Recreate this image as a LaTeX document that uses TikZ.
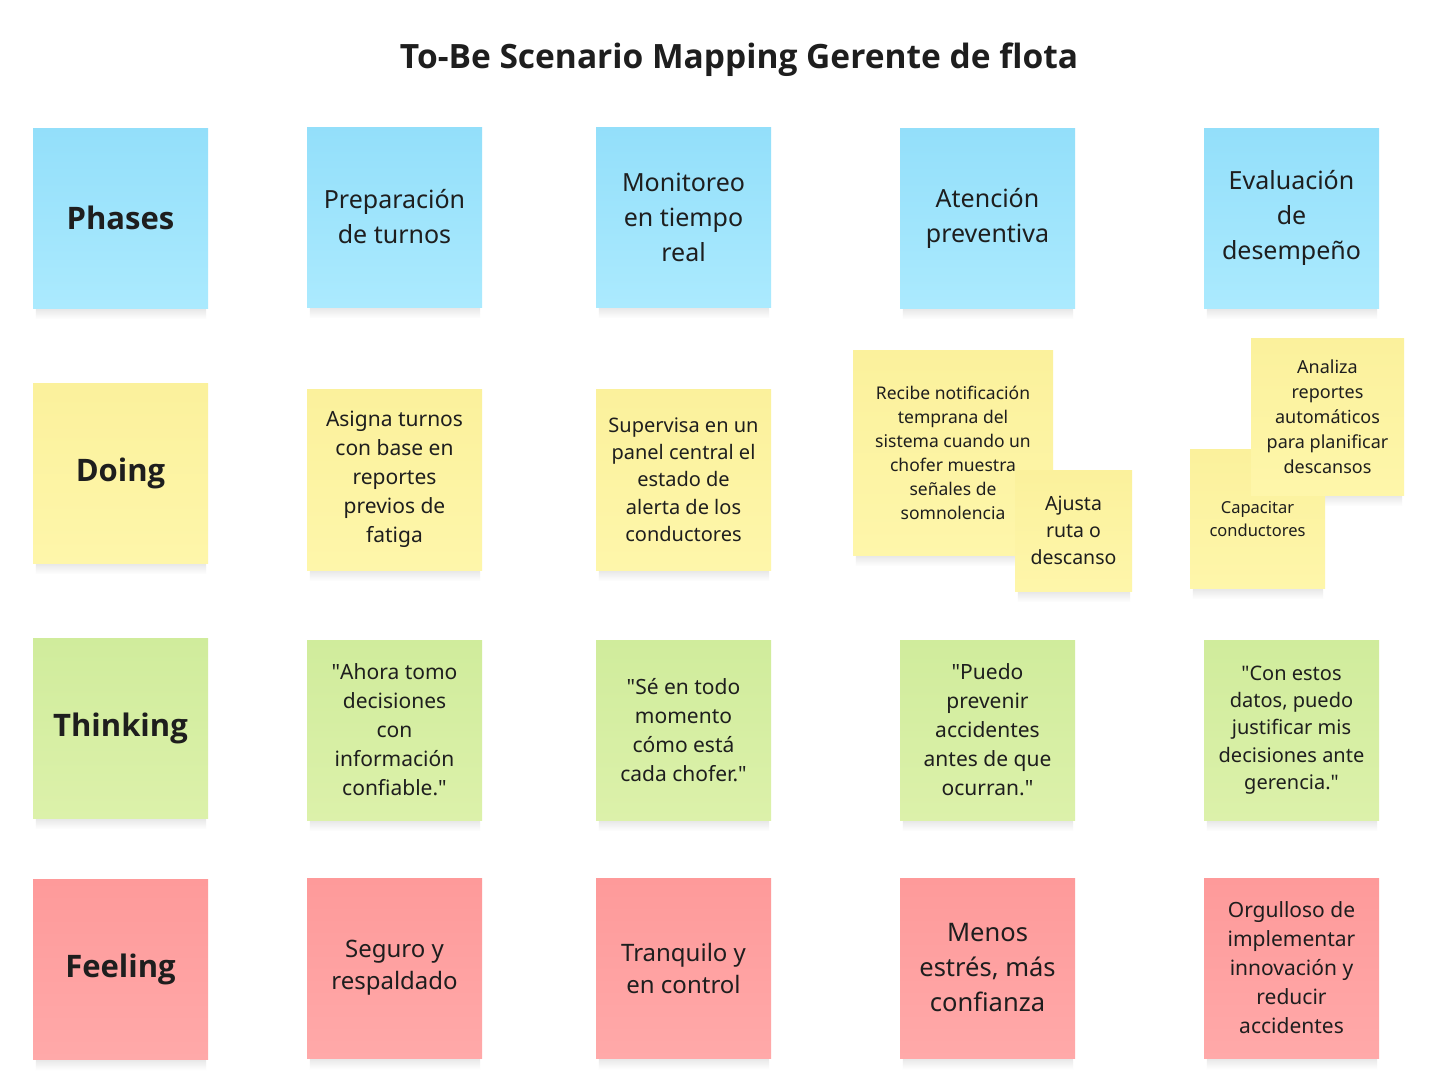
\documentclass[tikz,border=0pt]{standalone}
\usepackage{fontspec}
\setmainfont{Noto Sans}
\newfontfamily\heavyfont{Open Sans}
\usetikzlibrary{backgrounds}
\definecolor{ink}{HTML}{1E1E1E}
\definecolor{bluetop}{HTML}{93DFFA}
\definecolor{bluebot}{HTML}{ABEAFE}
\definecolor{yeltop}{HTML}{FBF19C}
\definecolor{yelbot}{HTML}{FEF6AA}
\definecolor{greentop}{HTML}{D0EC9C}
\definecolor{greenbot}{HTML}{DCF1AA}
\definecolor{redtop}{HTML}{FE9A9A}
\definecolor{redbot}{HTML}{FFA9A9}
\definecolor{shadowtone}{HTML}{E4E4E4}
\newcommand\notefont[2]{\fontsize{#1}{#2}\selectfont}
\newcommand\dq{\textquotedbl}
% soft shadow strip under a sticky note
\newcommand\noteshadow[1]{%
  \shade[top color=shadowtone, bottom color=white]
    ([xshift=3pt,yshift=1pt]#1.south west) rectangle ([xshift=-2pt,yshift=-11pt]#1.south east);}
\begin{document}
\begin{tikzpicture}[x=1pt,y=-1pt,
  note/.style={rectangle, inner sep=0pt, align=center, text=ink},
  dims/.style 2 args={minimum width=#1pt, minimum height=#2pt},
  bluenote/.style={note, top color=bluetop, bottom color=bluebot},
  yellownote/.style={note, top color=yeltop, bottom color=yelbot},
  greennote/.style={note, top color=greentop, bottom color=greenbot},
  rednote/.style={note, top color=redtop, bottom color=redbot},
  header/.style={font=\heavyfont\notefont{31}{36}\bfseries},
  big/.style={font=\notefont{25}{35}},
  mid/.style={font=\notefont{21}{29}},
  midsmall/.style={font=\notefont{20}{27.3}}
]
\begin{pgfonlayer}{background}
  \fill[white] (0,0) rectangle (1439,1085);
\end{pgfonlayer}
\useasboundingbox (0,0) rectangle (1439,1085);

% title
\node[anchor=base, text=ink, font=\heavyfont\notefont{33.5}{40}\bfseries] (title) at (739,68)
  {To-Be Scenario Mapping Gerente de flota};

% Phases row
\node[bluenote, dims={175}{180}, header] (ph0) at (120.5,218) {Phases};
\node[bluenote, dims={175}{180}, big] (ph1) at (394.5,217) {Preparación\\de turnos};
\node[bluenote, dims={175}{180}, big] (ph2) at (683.5,217) {Monitoreo\\en tiempo\\real};
\node[bluenote, dims={175}{180}, big] (ph3) at (987.5,218) {Atención\\preventiva};
\node[bluenote, dims={175}{180}, big] (ph4) at (1291.5,218) {Evaluación\\de\\desempeño};

% Doing row
\node[yellownote, dims={175}{180}, header] (do0) at (120.5,473) {Doing};
\node[yellownote, dims={175}{181}, mid] (do1) at (394.5,479.5)
  {Asigna turnos\\con base en\\reportes\\previos de\\fatiga};
\node[yellownote, dims={175}{181}, midsmall] (do2) at (683.5,479.5)
  {Supervisa en un\\panel central el\\estado de\\alerta de los\\conductores};
\node[yellownote, dims={200}{205}, font=\notefont{17.5}{24}] (do3) at (953,452.5)
  {Recibe notificación\\temprana del\\sistema cuando un\\chofer muestra\\señales de\\somnolencia};
\node[yellownote, dims={117}{121}, font=\notefont{19.5}{27}] (do4) at (1073.5,530.5)
  {Ajusta\\ruta o\\descanso};
\node[yellownote, dims={135}{139}, font=\notefont{16.5}{23}] (do5) at (1257.5,518.5)
  {Capacitar\\conductores};
\node[yellownote, dims={153}{157}, font=\notefont{18}{25}] (do6) at (1327.5,416.5)
  {Analiza\\reportes\\automáticos\\para planificar\\descansos};

% Thinking row
\node[greennote, dims={175}{180}, header] (th0) at (120.5,728) {Thinking};
\node[greennote, dims={175}{180}, mid] (th1) at (394.5,730)
  {\dq Ahora tomo\\decisiones\\con\\información\\confiable.\dq};
\node[greennote, dims={175}{180}, mid] (th2) at (683.5,730)
  {\dq Sé en todo\\momento\\cómo está\\cada chofer.\dq};
\node[greennote, dims={175}{180}, mid] (th3) at (987.5,730)
  {\dq Puedo\\prevenir\\accidentes\\antes de que\\ocurran.\dq};
\node[greennote, dims={175}{180}, midsmall] (th4) at (1291.5,730)
  {\dq Con estos\\datos, puedo\\justificar mis\\decisiones ante\\gerencia.\dq};

% Feeling row
\node[rednote, dims={175}{180}, header] (fe0) at (120.5,969) {Feeling};
\node[rednote, dims={175}{180}, font=\notefont{24}{32}] (fe1) at (394.5,968)
  {Seguro y\\respaldado};
\node[rednote, dims={175}{180}, font=\notefont{24}{32}] (fe2) at (683.5,968)
  {Tranquilo y\\en control};
\node[rednote, dims={175}{180}, font=\notefont{25.5}{35}] (fe3) at (987.5,968)
  {Menos\\estrés, más\\confianza};
\node[rednote, dims={175}{180}, mid] (fe4) at (1291.5,968)
  {Orgulloso de\\implementar\\innovación y\\reducir\\accidentes};

% shadows beneath the notes
\begin{pgfonlayer}{background}
  \foreach \n in {ph0,ph1,ph2,ph3,ph4,do0,do1,do2,do3,do4,do5,do6,
                  th0,th1,th2,th3,th4,fe0,fe1,fe2,fe3,fe4}
    {\noteshadow{\n}}
\end{pgfonlayer}
\end{tikzpicture}
\end{document}
